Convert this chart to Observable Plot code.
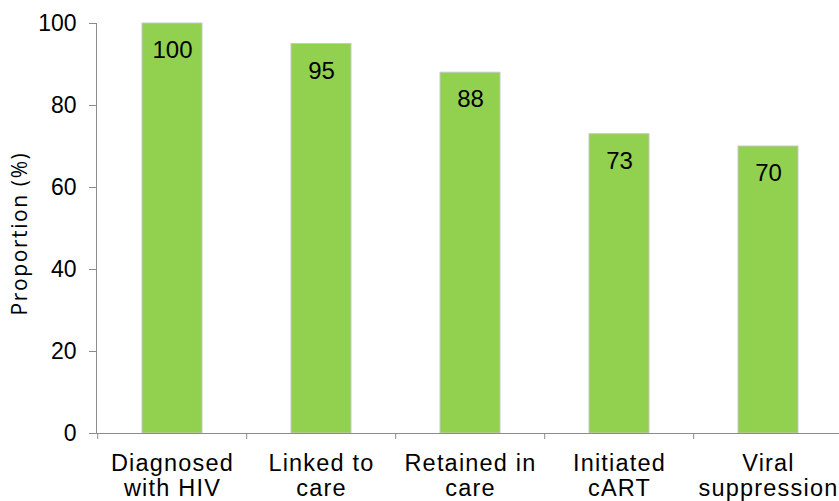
<!DOCTYPE html>
<html>
<head>
<meta charset="utf-8">
<script src="https://cdn.jsdelivr.net/npm/d3@7"></script>
<script src="https://cdn.jsdelivr.net/npm/@observablehq/plot@0.6"></script>
<style>
  html, body { margin: 0; padding: 0; background: #fff; }
  svg { display: block; }
  g[font-family*="Open Sans"] text { letter-spacing: 1.6px; }
  g[font-size="23.5"] text { letter-spacing: 1.2px; }
</style>
</head>
<body>
<div id="chart"></div>
<script>
const categories = ["Diagnosed\nwith HIV", "Linked to\ncare", "Retained in\ncare", "Initiated\ncART", "Viral\nsuppression"];
const values = [100, 95, 88, 73, 70];
const yTicks = [0, 20, 40, 60, 80, 100];
const yTitle = "Proportion (%)";

const data = categories.map((c, i) => ({category: c, value: values[i]}));

const W = 839, H = 501, ML = 96, MR = -5, MT = 23, MB = 68;
const step = (W - ML - MR) / categories.length;
const font = "'Liberation Sans', Arial, sans-serif";
const gray = "#8c8c8c";

const chart = Plot.plot({
  width: W,
  height: H,
  marginLeft: ML,
  marginRight: MR,
  marginTop: MT,
  marginBottom: MB,
  style: {fontFamily: font, color: "#000", background: "#fff", overflow: "visible"},
  x: {domain: categories, paddingInner: 0.6, paddingOuter: 0.3, align: 0.5, label: null},
  y: {domain: [0, 100], label: null},
  marks: [
    Plot.barY(data, {x: "category", y: "value", fill: "#92D050", stroke: "#c8c8c8", strokeWidth: 1}),
    Plot.text(data, {x: "category", y: "value", text: d => String(d.value), lineAnchor: "top", dy: 17.5, fontSize: 24, fill: "#000"}),
    Plot.ruleY([0], {stroke: gray, strokeWidth: 1}),
    Plot.frame({anchor: "left", stroke: gray, strokeWidth: 1}),
    Plot.axisY({ticks: yTicks, tickSize: 7, tickPadding: 13, fontSize: 23, stroke: gray, label: null, tickFormat: d => String(d)}),
    Plot.axisX({tickSize: 6, dx: -step / 2, tickFormat: () => "", stroke: gray, label: null}),
    Plot.axisX({tickSize: 0, tickPadding: 20, fontSize: 23.5, lineHeight: 1.05, label: null}),
    Plot.text([yTitle], {frameAnchor: "left", textAnchor: "middle", lineAnchor: "middle", rotate: -90, dx: -76, dy: 5, fontSize: 21, fill: "#000", fontFamily: "'Open Sans', sans-serif"})
  ]
});
document.getElementById("chart").appendChild(chart);
</script>
</body>
</html>
